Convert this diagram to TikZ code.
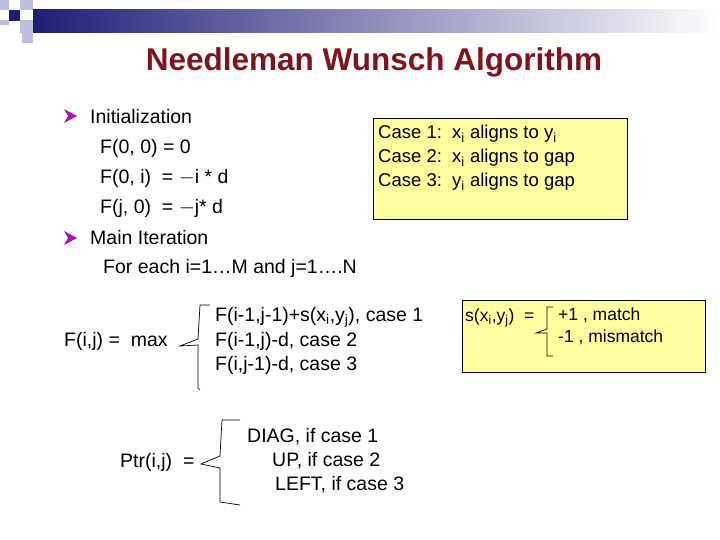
\documentclass[tikz,border=0pt]{standalone}
\usepackage{fontspec}
\setmainfont{Liberation Sans}
\definecolor{navy}{RGB}{30,30,120}
\definecolor{lav}{RGB}{190,190,225}
\definecolor{titlered}{RGB}{128,20,30}
\definecolor{notebox}{RGB}{255,255,160}
\definecolor{bulletpink}{RGB}{170,20,170}
\tikzset{
  txt/.style={anchor=west, inner sep=0pt, font=\fontsize{19.5}{22}\selectfont},
  small/.style={anchor=west, inner sep=0pt, font=\fontsize{18.5}{21}\selectfont},
  tiny/.style={anchor=west, inner sep=0pt, font=\fontsize{17.5}{20}\selectfont},
  note/.style={draw=black, fill=notebox, line width=0.6pt},
  brace/.style={line width=0.7pt},
  bullet/.style={fill=bulletpink}
}
\newcommand{\sub}[1]{\textsubscript{#1}}
\begin{document}
\begin{tikzpicture}[x=1pt, y=-1pt]
\useasboundingbox (0,0) rectangle (720,540);

% banner
\shade[left color=navy, right color=white] (33,10) rectangle (720,33);
\fill[lav] (0,0) rectangle (9,10);
\fill[lav] (20,0) rectangle (33,10);
\fill[lav] (20,20) rectangle (33,33);
\fill[lav] (0,20) rectangle (9,25);
\fill[lav] (22,33) rectangle (33,43);
\fill[navy] (9,10) rectangle (20,21);

\node[font=\bfseries\fontsize{31.5}{34}\selectfont, text=titlered] (title) at (374,62) {Needleman Wunsch Algorithm};

% bullets
\fill[bullet] (64,109) -- (77,116) -- (64,123) -- (68,116) -- cycle;
\fill[bullet] (64,231) -- (77,238) -- (64,245) -- (68,238) -- cycle;
\node[txt] (init) at (90,117) {Initialization};
\node[txt] (f00) at (100,148) {F(0, 0) = 0};
\node[txt] (f0i) at (100,178) {F(0, i)\ \ = $-$i * d};
\node[txt] (fj0) at (100,208) {F(j, 0)\ \ = $-$j* d};
\node[txt] (main) at (90,238) {Main Iteration};
\node[txt] (each) at (103,268) {For each i=1\ldots M and j=1\ldots.N};

% case box
\draw[note] (373,118) rectangle (627,219);
\node[small] (c1) at (378,134) {Case 1:\ \ x\sub{i} aligns to y\sub{i}};
\node[small] (c2) at (378,158) {Case 2:\ \ x\sub{i} aligns to gap};
\node[small] (c3) at (378,182) {Case 3:\ \ y\sub{i} aligns to gap};

% recurrence
\node[txt] (fij) at (64,341) {F(i,j) =\ \ max};
\node[txt] (r1) at (215,317) {F(i-1,j-1)+s(x\sub{i},y\sub{j}), case 1};
\node[txt] (r2) at (215,341) {F(i-1,j)-d, case 2};
\node[txt] (r3) at (215,365) {F(i,j-1)-d, case 3};
\draw[brace] (210,305) -- (200,305) -- (198,339) -- (180,346) -- (198,345) -- (198,388) -- (200,390);

% score box
\draw[note] (462,300) rectangle (705,372);
\node[tiny] (s) at (465,318) {s(x\sub{i},y\sub{j})\ \ =};
\node[tiny] (s1) at (558,315) {+1 , match};
\node[tiny] (s2) at (558,337) {-1 , mismatch};
\draw[brace] (553,307) -- (547,307) -- (547,329) -- (536,333) -- (547,333) -- (547,356) -- (553,356);

% traceback
\node[txt] (ptr) at (120,462) {Ptr(i,j)\ \ =};
\node[txt] (p1) at (247,437) {DIAG, if case 1};
\node[txt] (p2) at (272,461) {UP, if case 2};
\node[txt] (p3) at (275,485) {LEFT, if case 3};
\draw[brace] (240,420) -- (222,420) -- (220,456) -- (201,464) -- (220,468) -- (220,502) -- (240,505);
\end{tikzpicture}
\end{document}
